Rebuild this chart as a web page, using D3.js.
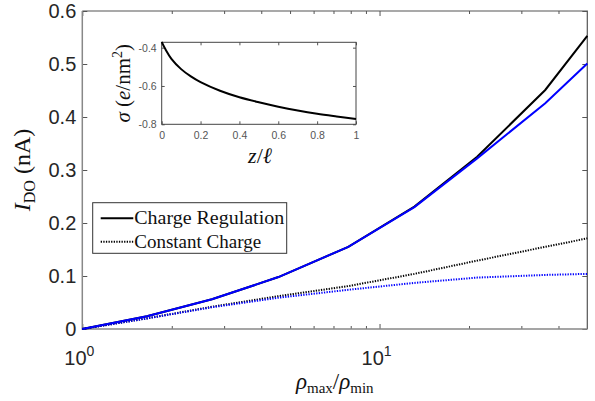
<!DOCTYPE html>
<html>
<head>
<meta charset="utf-8">
<script src="https://cdn.jsdelivr.net/npm/d3@7"></script>
<style>
	body { margin: 0; background: #fff; }
	.tick text { font-family: "Liberation Sans", Arial, sans-serif; fill: #262626; }
	.inset .tick text { fill: #555; }
	.axis .tick line { stroke: #555; }
	.label { font-family: "Liberation Serif", "Times New Roman", serif; fill: #111; }
</style>
</head>
<body>
<svg id="chart"></svg>
<script>
// Main plot: drift-osmotic current vs ratio of densities
const ratios = [1, 1.65, 2.73, 4.57, 7.85, 13.1, 21.3, 36.1, 50];
const regulationBlack = [0, 0.024, 0.056, 0.098, 0.155, 0.231, 0.325, 0.451, 0.553];
const regulationBlue = [0, 0.024, 0.056, 0.098, 0.155, 0.230, 0.322, 0.426, 0.501];
const constantBlack = [0, 0.020, 0.042, 0.062, 0.081, 0.104, 0.129, 0.155, 0.171];
const constantBlue = [0, 0.020, 0.041, 0.059, 0.074, 0.087, 0.097, 0.102, 0.104];

const yTicks = [0, 0.1, 0.2, 0.3, 0.4, 0.5, 0.6];
const xMajorTicks = [1, 10];
const xMinorTicks = [2, 3, 4, 5, 6, 7, 8, 9, 20, 30, 40];
const xTickExponents = ['0', '1'];

// Inset: surface charge along the pore
const insetZ = [0, 0.02, 0.05, 0.1, 0.15, 0.2, 0.3, 0.4, 0.5, 0.6, 0.7, 0.8, 0.9, 1];
const insetSigma = [-0.370, -0.410, -0.458, -0.512, -0.550, -0.580, -0.625, -0.659, -0.685, -0.708, -0.728, -0.745, -0.759, -0.772];
const insetXTicks = [0, 0.2, 0.4, 0.6, 0.8, 1];
const insetYTicks = [-0.8, -0.6, -0.4];

const legendItems = [
	{label: 'Charge Regulation', dash: null},
	{label: 'Constant Charge', dash: '1.3,1.3'}
];

const width = 595, height = 401;
const margin = {top: 11, right: 7.7, bottom: 72, left: 82.3};
const w = width - margin.left - margin.right;
const h = height - margin.top - margin.bottom;

const svg = d3.select('#chart')
	.attr('width', width)
	.attr('height', height);

const chart = svg.append('g')
	.attr('transform', `translate(${margin.left},${margin.top})`);

const xScale = d3.scaleLog().domain([1, 50]).range([0, w]);
const yScale = d3.scaleLinear().domain([0, 0.6]).range([h, 0]);

// Ticks point inwards on all four sides (box on)
function drawTicks(g, axisFn, scale, values, size, withLabels, fmt) {
	const axis = axisFn(scale).tickValues(values).tickSize(-size)
		.tickFormat(withLabels ? fmt : '');
	g.call(axis);
	g.select('.domain').remove();
	return g;
}

const bottomG = chart.append('g').attr('class', 'axis').attr('transform', `translate(0,${h})`);
drawTicks(bottomG, d3.axisBottom, xScale, xMajorTicks, 5, false);
const bottomMinorG = chart.append('g').attr('class', 'axis').attr('transform', `translate(0,${h})`);
drawTicks(bottomMinorG, d3.axisBottom, xScale, xMinorTicks, 3, false);
drawTicks(chart.append('g').attr('class', 'axis'), d3.axisTop, xScale, xMajorTicks, 5, false);
drawTicks(chart.append('g').attr('class', 'axis'), d3.axisTop, xScale, xMinorTicks, 3, false);

const leftG = chart.append('g').attr('class', 'axis');
drawTicks(leftG, d3.axisLeft, yScale, yTicks, 5, true, d => d === 0 ? '0' : d.toFixed(1));
leftG.call(g => g.selectAll('.tick text').attr('x', -6).style('font-size', '20px'));
drawTicks(chart.append('g').attr('class', 'axis').attr('transform', `translate(${w},0)`),
	d3.axisRight, yScale, yTicks, 5, false);

// 10^n labels with superscripts
const xLabels = chart.append('g');
xMajorTicks.forEach((t, i) => {
	const txt = xLabels.append('text')
		.attr('x', xScale(t) - 3)
		.attr('y', h + 36)
		.attr('text-anchor', 'middle')
		.attr('class', 'tick-label')
		.style('font-family', '"Liberation Sans", Arial, sans-serif')
		.style('font-size', '20px')
		.style('fill', '#262626');
	txt.append('tspan').text('10');
	txt.append('tspan').attr('dy', -9).style('font-size', '14px').text(xTickExponents[i]);
});

// Box around the plot
chart.append('path')
	.attr('d', `M0,0H${w}V${h}`)
	.attr('fill', 'none').attr('stroke', '#555').attr('stroke-width', 1.2);
chart.append('path')
	.attr('d', `M0,0V${h}H${w}`)
	.attr('fill', 'none').attr('stroke', '#888').attr('stroke-width', 1.5);

// Data lines
const mainLine = d3.line()
	.x((d, i) => xScale(ratios[i]))
	.y(d => yScale(d));

const series = [
	{values: constantBlack, color: '#000', dash: '1.3,1.3'},
	{values: constantBlue, color: '#0000ff', dash: '1.3,1.3'},
	{values: regulationBlack, color: '#000', dash: null},
	{values: regulationBlue, color: '#0000ff', dash: null}
];

chart.selectAll('.series')
	.data(series)
	.join('path')
	.attr('class', 'series')
	.attr('d', d => mainLine(d.values))
	.attr('fill', 'none')
	.attr('stroke', d => d.color)
	.attr('stroke-width', 2)
	.attr('stroke-dasharray', d => d.dash);

// Axis titles
const yTitle = svg.append('text')
	.attr('class', 'label')
	.attr('transform', `translate(30,${margin.top + h / 2}) rotate(-90)`)
	.attr('text-anchor', 'middle')
	.style('font-size', '24px');
yTitle.append('tspan').style('font-style', 'italic').text('I');
yTitle.append('tspan').attr('dy', 5).style('font-size', '16px').text('DO');
yTitle.append('tspan').attr('dy', -5).text(' (nA)');

const xTitle = svg.append('text')
	.attr('class', 'label')
	.attr('x', margin.left + w / 2)
	.attr('y', 389)
	.attr('text-anchor', 'middle')
	.style('font-size', '23px');
xTitle.append('tspan').style('font-style', 'italic').text('ρ');
xTitle.append('tspan').attr('dy', 4).style('font-size', '15px').text('max');
xTitle.append('tspan').attr('dy', -4).text('/');
xTitle.append('tspan').style('font-style', 'italic').text('ρ');
xTitle.append('tspan').attr('dy', 4).style('font-size', '15px').text('min');

// Legend
const legend = chart.append('g')
	.attr('transform', `translate(${92.7 - margin.left},${202.7 - margin.top})`);
legend.append('rect')
	.attr('width', 194).attr('height', 50.6)
	.attr('fill', '#fff').attr('stroke', '#333').attr('stroke-width', 1);
legendItems.forEach((item, i) => {
	const cy = 15.6 + i * 23.4;
	legend.append('line')
		.attr('x1', 8).attr('x2', 40.6).attr('y1', cy).attr('y2', cy)
		.attr('stroke', '#000').attr('stroke-width', 2)
		.attr('stroke-dasharray', item.dash);
	legend.append('text')
		.attr('class', 'label')
		.attr('x', 41.5).attr('y', cy + 6)
		.style('font-size', '18px')
		.attr('textLength', i === 0 ? 150 : 127)
		.attr('lengthAdjust', 'spacingAndGlyphs')
		.text(item.label);
});

// Inset
const inset = {left: 161.7, top: 42.3, right: 356, bottom: 124.3};
const iw = inset.right - inset.left, ih = inset.bottom - inset.top;
const insetG = svg.append('g')
	.attr('class', 'inset')
	.attr('transform', `translate(${inset.left},${inset.top})`);

const zScale = d3.scaleLinear().domain([0, 1]).range([0, iw]);
const sScale = d3.scaleLinear().domain([-0.8, -0.372]).range([ih, 0]);

const ixG = insetG.append('g').attr('class', 'axis').attr('transform', `translate(0,${ih})`);
drawTicks(ixG, d3.axisBottom, zScale, insetXTicks, 3, true, d => d === 0 || d === 1 ? String(d) : d.toFixed(1));
ixG.selectAll('.tick text').attr('y', 7).style('font-size', '10.5px');
drawTicks(insetG.append('g').attr('class', 'axis'), d3.axisTop, zScale, insetXTicks, 3, false);
const iyG = insetG.append('g').attr('class', 'axis');
drawTicks(iyG, d3.axisLeft, sScale, insetYTicks, 3, true, d => d.toFixed(1));
iyG.selectAll('.tick text').attr('x', -5).style('font-size', '10.5px');
drawTicks(insetG.append('g').attr('class', 'axis').attr('transform', `translate(${iw},0)`),
	d3.axisRight, sScale, insetYTicks, 3, false);

insetG.append('rect')
	.attr('width', iw).attr('height', ih)
	.attr('fill', 'none').attr('stroke', '#444').attr('stroke-width', 1);

const insetLine = d3.line()
	.x((d, i) => zScale(insetZ[i]))
	.y(d => sScale(d))
	.curve(d3.curveCatmullRom.alpha(0.5));

insetG.append('path')
	.datum(insetSigma)
	.attr('d', insetLine)
	.attr('fill', 'none')
	.attr('stroke', '#000')
	.attr('stroke-width', 2);

const zTitle = svg.append('text')
	.attr('class', 'label')
	.attr('x', 260).attr('y', 163)
	.attr('text-anchor', 'middle')
	.style('font-size', '22px');
zTitle.append('tspan').style('font-style', 'italic').text('z');
zTitle.append('tspan').text('/');
zTitle.append('tspan').style('font-style', 'italic').text('ℓ');

const sTitle = svg.append('text')
	.attr('class', 'label')
	.attr('transform', `translate(130,${inset.top + ih / 2}) rotate(-90)`)
	.attr('text-anchor', 'middle')
	.style('font-size', '21px');
sTitle.append('tspan').style('font-style', 'italic').text('σ');
sTitle.append('tspan').text(' (');
sTitle.append('tspan').style('font-style', 'italic').text('e');
sTitle.append('tspan').text('/nm');
sTitle.append('tspan').attr('dy', -8).style('font-size', '14px').text('2');
sTitle.append('tspan').attr('dy', 8).text(')');
</script>
</body>
</html>
